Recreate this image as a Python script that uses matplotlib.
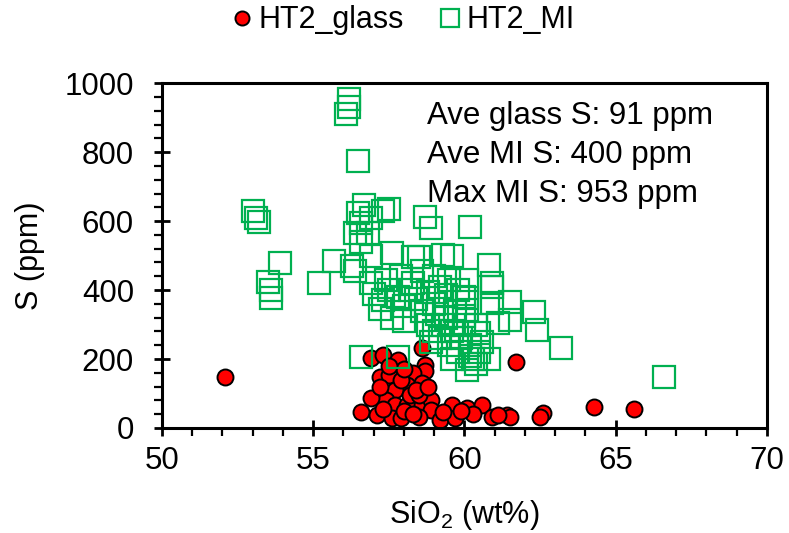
import matplotlib
matplotlib.use("Agg")
import matplotlib.pyplot as plt
from matplotlib.ticker import MultipleLocator

plt.rcParams["font.family"] = ["Liberation Sans", "DejaVu Sans"]

# HT2 melt inclusions (SiO2 wt%, S ppm)
mi_sio2 = [56.2, 56.2, 56.1, 56.5,
           53.0, 53.1, 53.2, 53.9, 53.5, 53.6, 53.6, 55.2, 55.7, 56.3, 56.4,
           56.7, 57.5, 56.5, 57.3, 56.6, 56.4, 56.8, 56.6, 56.9, 58.7, 58.9, 60.2,
           57.6, 58.3, 59.3, 59.6, 58.5, 56.9,
           60.8, 60.9, 60.9, 61.5, 62.3, 62.4, 63.2, 66.6, 60.0, 60.1, 61.1, 60.5,
           60.1, 60.1, 60.9, 61.5, 60.0,
           56.6, 57.8, 60.1, 60.4, 60.2,
           57.0, 57.3, 57.5, 57.8, 58.0, 58.2, 58.4, 58.6, 58.8, 59.0, 59.2, 59.4,
           57.2, 57.6, 58.0, 58.3, 57.9, 58.6, 59.0, 59.5, 59.8, 56.9, 57.4,
           58.8, 59.0, 59.2, 59.3, 59.5, 59.6, 59.8, 59.9, 60.0, 60.2, 60.3, 60.5,
           60.6, 60.8, 59.4, 59.1, 59.7, 60.4, 58.9, 59.6]
mi_s = [953, 930, 910, 775,
        628, 608, 598, 478, 423, 400, 378, 420, 485, 470, 455,
        646, 635, 623, 628, 594, 565, 565, 540, 610, 612, 580, 583,
        507, 496, 501, 498, 496, 500,
        472, 420, 409, 365, 336, 284, 232, 148, 380, 342, 304, 275,
        429, 377, 362, 313, 325,
        206, 206, 168, 185, 210,
        390, 370, 400, 380, 355, 400, 375, 340, 395, 360, 410, 385,
        345, 320, 310, 420, 440, 455, 440, 430, 400, 420, 430,
        300, 280, 260, 300, 240, 280, 220, 260, 300, 240, 200, 220,
        250, 200, 320, 330, 340, 300, 250, 200]

# HT2 matrix glass
glass_sio2 = [52.1, 61.7, 61.4, 61.5, 62.6, 62.5, 64.3, 65.6,
              56.9, 57.3, 57.8, 58.6, 58.7, 58.7, 57.2, 57.5, 58.3, 58.6, 58.1,
              57.7, 57.4, 56.9, 57.7, 58.1, 58.6, 58.9, 58.9, 56.6, 57.1, 57.6,
              57.9, 58.5, 59.2, 59.6, 59.7, 60.1, 60.6, 60.9, 61.1, 58.2, 58.5,
              57.2, 57.9, 58.4, 58.0, 58.3, 57.3, 59.3, 60.3, 59.9, 58.8, 58.0, 57.5]
glass_s = [148, 191, 38, 32, 43, 32, 61, 55,
           203, 212, 197, 232, 183, 165, 148, 154, 159, 130, 125,
           110, 81, 87, 67, 67, 67, 81, 52, 46, 38, 29,
           29, 32, 23, 67, 29, 58, 67, 32, 38, 96, 96,
           120, 140, 110, 50, 40, 55, 45, 40, 50, 120, 170, 180]

notes = ["Ave glass S: 91 ppm", "Ave MI S: 400 ppm", "Max MI S: 953 ppm"]

fig = plt.figure(figsize=(7.89, 5.33), dpi=100)
ax = fig.add_axes([0.205, 0.197, 0.767, 0.647])

ax.plot(glass_sio2, glass_s, "o", ms=11.5, mfc="#ff0000", mec="black", mew=1.4,
        label="HT2_glass", zorder=2)
ax.plot(mi_sio2, mi_s, "s", ms=15.5, mfc="none", mec="#00b050", mew=1.6,
        label="HT2_MI", zorder=3)

ax.set_xlim(50, 70)
ax.set_ylim(0, 1000)
ax.xaxis.set_major_locator(MultipleLocator(5))
ax.xaxis.set_minor_locator(MultipleLocator(1))
ax.yaxis.set_major_locator(MultipleLocator(200))
ax.yaxis.set_minor_locator(MultipleLocator(40))
ax.tick_params(which="major", direction="inout", length=12, width=2, labelsize=22.5)
ax.tick_params(axis="x", which="major", pad=7)
ax.tick_params(axis="y", which="major", pad=14)
ax.tick_params(which="minor", direction="out", length=6, width=1.6)
for sp in ax.spines.values():
    sp.set_linewidth(2.2)

ax.set_xlabel("SiO$_\\mathregular{2}$ (wt%)", fontsize=22, labelpad=16)
ax.set_ylabel("S (ppm)", fontsize=22, labelpad=14)

ax.text(0.438, 0.948, "\n".join(notes), transform=ax.transAxes, fontsize=22.5,
        va="top", ha="left", linespacing=1.38)

fig.legend(*ax.get_legend_handles_labels(), loc="center", bbox_to_anchor=(0.508, 0.962),
           ncol=2, frameon=False, fontsize=22, handletextpad=0.05, columnspacing=1.0,
           markerscale=0.88, handlelength=1.0, borderaxespad=0)

fig.savefig("out.png", dpi=100)
